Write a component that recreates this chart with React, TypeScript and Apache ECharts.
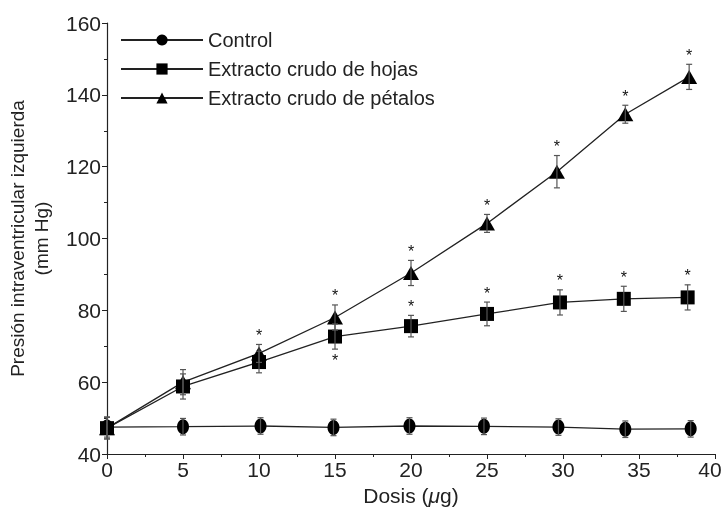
import React, { useEffect, useRef } from "react";
import * as echarts from "echarts";

const seriesNames = ["Control", "Extracto crudo de hojas", "Extracto crudo de pétalos"];

const controlX = [0, 5, 10.1, 14.9, 19.9, 24.8, 29.7, 34.1, 38.4];
const controlY = [47.5, 47.6, 47.8, 47.4, 47.8, 47.7, 47.5, 46.9, 47.0];
const controlErr = [2.8, 2.3, 2.3, 2.3, 2.3, 2.3, 2.3, 2.3, 2.3];
const controlStars = [0, 0, 0, 0, 0, 0, 0, 0, 0];

const hojasX = [0, 5, 10, 15, 20, 25, 29.8, 34, 38.2];
const hojasY = [47.2, 58.8, 65.6, 72.7, 75.6, 79, 82.2, 83.2, 83.6];
const hojasErr = [3, 3.5, 3, 3.5, 3, 3.3, 3.5, 3.5, 3.5];
const hojasStars = [0, 0, 0, -1, 1, 1, 1, 1, 1];

const petalosX = [0, 5, 10, 15, 20, 25, 29.6, 34.1, 38.3];
const petalosY = [47.2, 60, 68, 78, 90.4, 104.2, 118.6, 134.6, 145];
const petalosErr = [3, 3.5, 2.5, 3.5, 3.5, 2.5, 4.5, 2.5, 3.5];
const petalosStars = [0, 0, 1, 1, 1, 1, 1, 1, 1];

const X_MAX = 40;

const FONT = "'Liberation Sans', Arial, Helvetica, sans-serif";

function pairs(xs: number[], ys: number[]) {
  return xs.map((x, i) => [x, ys[i]]);
}
function errData(xs: number[], ys: number[], es: number[], ss: number[]) {
  return xs.map((x, i) => [x, ys[i], es[i], ss[i]]);
}

function renderErr(params: any, api: any) {
  const x = api.value(0);
  const y = api.value(1);
  const e = api.value(2);
  const s = api.value(3);
  const top = api.coord([x, y + e]);
  const bot = api.coord([x, y - e]);
  const cap = 3;
  const stroke = { stroke: "#555", lineWidth: 1.2 };
  const children: any[] = [
    { type: "line", shape: { x1: top[0], y1: top[1], x2: bot[0], y2: bot[1] }, style: stroke },
    { type: "line", shape: { x1: top[0] - cap, y1: top[1], x2: top[0] + cap, y2: top[1] }, style: stroke },
    { type: "line", shape: { x1: bot[0] - cap, y1: bot[1], x2: bot[0] + cap, y2: bot[1] }, style: stroke },
  ];
  if (s > 0) {
    children.push({
      type: "text",
      style: { text: "*", x: top[0], y: top[1] - 1, align: "center", verticalAlign: "bottom", fill: "#111", font: `16px ${FONT}` },
    });
  } else if (s < 0) {
    children.push({
      type: "text",
      style: { text: "*", x: bot[0], y: bot[1] + 3, align: "center", verticalAlign: "top", fill: "#111", font: `16px ${FONT}` },
    });
  }
  return { type: "group", children };
}

export default function App() {
  const ref = useRef<HTMLDivElement>(null);
  useEffect(() => {
    if (!ref.current) return;
    const chart = echarts.init(ref.current, undefined, { renderer: "svg" });
    const lineCommon = {
      type: "line",
      lineStyle: { color: "#222", width: 1.3 },
      itemStyle: { color: "#000" },
      z: 3,
    };
    const errCommon = {
      type: "custom",
      renderItem: renderErr,
      encode: { x: 0, y: 1 },
      z: 4,
      silent: true,
    };
    chart.setOption({
      animation: false,
      textStyle: { fontFamily: FONT },
      grid: { left: 107, right: 10, top: 23, bottom: 54, containLabel: false, outerBoundsMode: "none" },
      legend: {
        data: seriesNames,
        orient: "vertical",
        left: 115,
        top: 25,
        itemWidth: 82,
        itemHeight: 14,
        itemGap: 9,
        textStyle: { fontSize: 20, color: "#222", fontFamily: FONT },
      },
      xAxis: {
        type: "value",
        min: 0,
        max: X_MAX,
        interval: 5,
        name: "Dosis ({i|μ}g)",
        nameLocation: "middle",
        nameGap: 30,
        nameTextStyle: {
          fontSize: 21,
          color: "#222",
          fontFamily: FONT,
          rich: { i: { fontStyle: "italic", fontSize: 21, color: "#222", fontFamily: FONT } },
        },
        axisLine: { lineStyle: { color: "#222", width: 1.2 } },
        axisTick: { length: 5, lineStyle: { color: "#222" } },
        minorTick: { show: true, splitNumber: 2, length: 3, lineStyle: { color: "#222" } },
        axisLabel: {
          fontSize: 21,
          color: "#222",
          margin: 5,
          fontFamily: FONT,
          formatter: (v: number) => (v === X_MAX ? `{last|${v}}` : `${v}`),
          rich: { last: { fontSize: 21, color: "#222", fontFamily: FONT, padding: [0, 10, 0, 0] } },
        },
        splitLine: { show: false },
      },
      yAxis: {
        type: "value",
        min: 40,
        max: 160,
        interval: 20,
        name: "Presión intraventricular izquierda\n(mm Hg)",
        nameLocation: "middle",
        nameGap: 54,
        nameTextStyle: { fontSize: 19, color: "#222", lineHeight: 24, fontFamily: FONT },
        axisLine: { show: true, lineStyle: { color: "#222", width: 1.2 } },
        axisTick: { show: true, length: 5, lineStyle: { color: "#222" } },
        minorTick: { show: true, splitNumber: 2, length: 3, lineStyle: { color: "#222" } },
        axisLabel: { fontSize: 21, color: "#222", margin: 6, fontFamily: FONT },
        splitLine: { show: false },
      },
      series: [
        { ...lineCommon, name: seriesNames[0], symbol: "circle", symbolSize: [12, 15], data: pairs(controlX, controlY) },
        { ...lineCommon, name: seriesNames[1], symbol: "rect", symbolSize: [14, 14], data: pairs(hojasX, hojasY) },
        { ...lineCommon, name: seriesNames[2], symbol: "triangle", symbolSize: [16, 14], data: pairs(petalosX, petalosY) },
        { ...errCommon, name: "errC", data: errData(controlX, controlY, controlErr, controlStars) },
        { ...errCommon, name: "errH", data: errData(hojasX, hojasY, hojasErr, hojasStars) },
        { ...errCommon, name: "errP", data: errData(petalosX, petalosY, petalosErr, petalosStars) },
      ],
    });
    return () => chart.dispose();
  }, []);
  return (
    <div
      ref={ref}
      style={{ position: "fixed", left: 0, top: 0, width: 725, height: 508 }}
    />
  );
}
